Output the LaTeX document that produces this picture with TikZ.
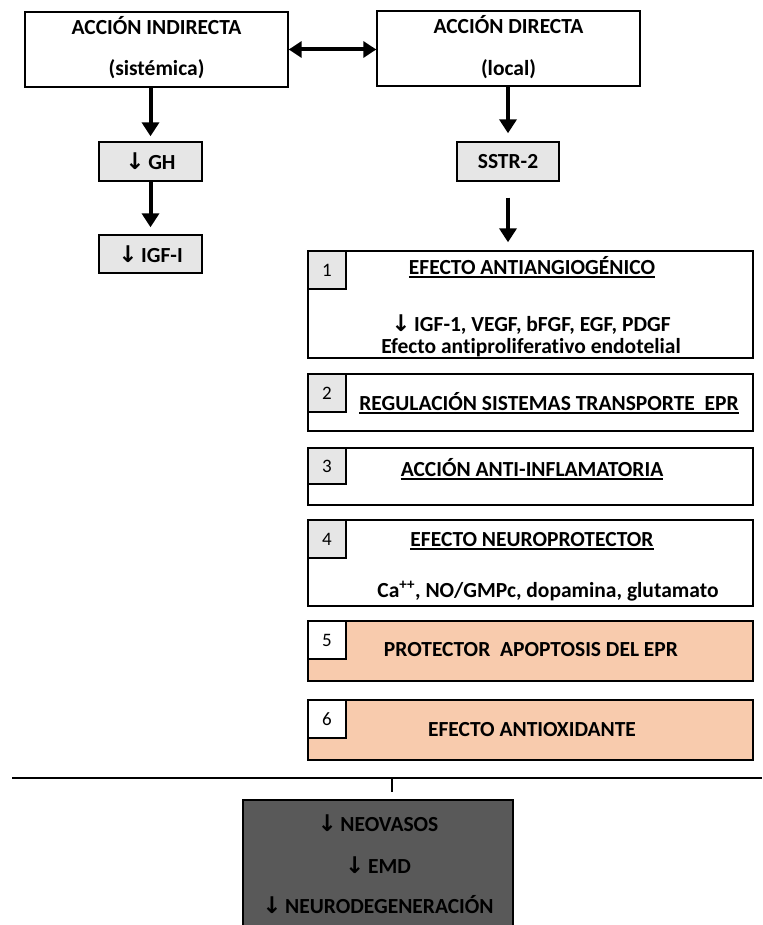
\documentclass[tikz,border=0pt]{standalone}
\usepackage{fontspec}
\setmainfont{Carlito}[Ligatures=NoCommon]
\newfontfamily\arrowfont{DejaVu Sans}
\usetikzlibrary{arrows.meta}
\definecolor{boxgray}{HTML}{E6E6E6}
\definecolor{peach}{HTML}{F8CBAD}
\definecolor{darkbox}{HTML}{595959}
\newcommand{\dn}{{\arrowfont\fontsize{23}{24}\selectfont ↓}}
\begin{document}
\begin{tikzpicture}[x=1pt,y=-1pt,
  box/.style={draw, line width=1.4pt, inner sep=0pt},
  arr/.style={-{Triangle[length=14pt,width=17pt]}, line width=4pt},
  darr/.style={{Triangle[length=13pt,width=16pt]}-{Triangle[length=13pt,width=16pt]}, line width=4pt},
  txt/.style={font=\bfseries\fontsize{21.5}{25}\selectfont, inner sep=0pt, anchor=base},
  numtxt/.style={font=\fontsize{19}{22}\selectfont},
  uline/.style={line width=1.3pt}]
\useasboundingbox (0,0) rectangle (762,925);
\clip (0,0) rectangle (762,925);

% top boxes
\node[box, minimum width=263pt, minimum height=75pt] (topL) at (156.5,49.5) {};
\node[box, minimum width=263pt, minimum height=75pt] (topR) at (508.5,48.5) {};
\node[txt] (tL1) at (156.5,35) {ACCIÓN INDIRECTA};
\node[txt] (tL2) at (156.5,76) {(sistémica)};
\node[txt] (tR1) at (508.5,34) {ACCIÓN DIRECTA};
\node[txt] (tR2) at (508.5,76) {(local)};

% small gray boxes
\node[box, fill=boxgray, minimum width=103pt, minimum height=39pt, font=\bfseries\fontsize{21.5}{25}\selectfont] (gh) at (150.5,161.5) {\dn\,GH};
\node[box, fill=boxgray, minimum width=103pt, minimum height=38pt, font=\bfseries\fontsize{21.5}{25}\selectfont] (igf) at (150.5,254) {\dn\,IGF-I};
\node[box, fill=boxgray, minimum width=102pt, minimum height=39pt, font=\bfseries\fontsize{21.5}{25}\selectfont] (sstr) at (508,161.5) {SSTR-2};

% numbered boxes
\node[box, minimum width=445pt, minimum height=107pt] (b1) at (530.5,304.5) {};
\node[box, fill=boxgray, minimum width=38pt, minimum height=38pt, numtxt] (n1) at (327,270) {1};
\node[txt] (b1t) at (532,274) {EFECTO ANTIANGIOGÉNICO};
\draw[uline] ([yshift=-3pt]b1t.base west) -- ([yshift=-3pt]b1t.base east);
\node[txt] (b1a) at (531,331) {\dn\,IGF-1, VEGF, bFGF, EGF, PDGF};
\node[txt] (b1b) at (531,353) {Efecto antiproliferativo endotelial};

\node[box, minimum width=445pt, minimum height=57pt] (b2) at (530.5,402.5) {};
\node[box, fill=boxgray, minimum width=38pt, minimum height=38pt, numtxt] (n2) at (327,393) {2};
\node[txt] (b2t) at (549,410) {REGULACIÓN SISTEMAS TRANSPORTE\ \ EPR};
\draw[uline] ([yshift=-3pt]b2t.base west) -- ([yshift=-3pt]b2t.base east);

\node[box, minimum width=445pt, minimum height=57pt] (b3) at (530.5,476.5) {};
\node[box, fill=boxgray, minimum width=38pt, minimum height=36pt, numtxt] (n3) at (327,466) {3};
\node[txt] (b3t) at (532,476) {ACCIÓN ANTI-INFLAMATORIA};
\draw[uline] ([yshift=-3pt]b3t.base west) -- ([yshift=-3pt]b3t.base east);

\node[box, minimum width=445pt, minimum height=86pt] (b4) at (530.5,563) {};
\node[box, fill=boxgray, minimum width=38pt, minimum height=38pt, numtxt] (n4) at (327,539) {4};
\node[txt] (b4t) at (532,546) {EFECTO NEUROPROTECTOR};
\draw[uline] ([yshift=-3pt]b4t.base west) -- ([yshift=-3pt]b4t.base east);
\node[txt] (b4a) at (548,597) {Ca\textsuperscript{++}, NO/GMPc, dopamina,\ glutamato};

\node[box, fill=peach, minimum width=445pt, minimum height=60pt] (b5) at (530.5,651) {};
\node[box, fill=white, minimum width=38pt, minimum height=38pt, numtxt] (n5) at (327,640) {5};
\node[txt] (b5t) at (531,656) {PROTECTOR\ \ APOPTOSIS DEL EPR};

\node[box, fill=peach, minimum width=445pt, minimum height=60pt] (b6) at (530.5,730) {};
\node[box, fill=white, minimum width=38pt, minimum height=38pt, numtxt] (n6) at (327,719) {6};
\node[txt] (b6t) at (532,736) {EFECTO ANTIOXIDANTE};

% separator line and tick
\coordinate (hl) at (12,778);
\coordinate (hr) at (762,778);
\coordinate (tk) at (392,778);
\draw[line width=2pt] (hl) -- (hr);
\draw[line width=1.3pt] (tk) -- ++(0,14);

% bottom dark box
\node[box, fill=darkbox, minimum width=270pt, minimum height=140pt] (bot) at (378,870) {};
\node[txt] (bo1) at (378,831) {\dn\,NEOVASOS};
\node[txt] (bo2) at (378,873) {\dn\,EMD};
\node[txt] (bo3) at (378,913) {\dn\,NEURODEGENERACIÓN};

% connectors
\draw[darr] (topL.east) -- (topL.east -| topR.west);
\draw[arr, shorten >=5pt] (gh.north |- topL.south) -- (gh.north);
\draw[arr, shorten >=7pt] (gh.south) -- (igf.north);
\draw[arr, shorten >=8pt] (topR.south -| sstr.north) -- (sstr.north);
\draw[arr, shorten <=16pt, shorten >=8pt] (sstr.south) -- (sstr.south |- b1.north);
\end{tikzpicture}
\end{document}
